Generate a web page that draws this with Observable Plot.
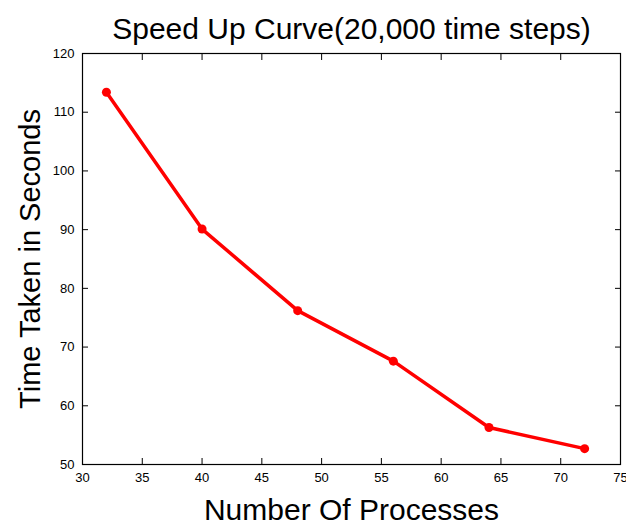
<!DOCTYPE html>
<html><head><meta charset="utf-8">
<script src="https://cdn.jsdelivr.net/npm/d3@7"></script>
<script src="https://cdn.jsdelivr.net/npm/@observablehq/plot@0.6"></script>
<style>body{margin:0;background:#fff}</style>
</head><body><div id="chart"></div>
<script>
const processes = [32, 40, 48, 56, 64, 72];
const seconds = [113.4, 90.1, 76.2, 67.6, 56.3, 52.7];
const xTicks = [30, 35, 40, 45, 50, 55, 60, 65, 70, 75];
const yTicks = [50, 60, 70, 80, 90, 100, 110, 120];
const title = "Speed Up Curve(20,000 time steps)";
const xLabel = "Number Of Processes";
const yLabel = "Time Taken in Seconds";

const data = processes.map((p, i) => ({p, s: seconds[i]}));
const font = "Liberation Sans, Arial, sans-serif";

const chart = Plot.plot({
  width: 626, height: 523,
  marginLeft: 82, marginRight: 6, marginTop: 53, marginBottom: 59,
  style: {fontFamily: font, background: "#fff", color: "#000"},
  x: {domain: [30, 75], ticks: xTicks},
  y: {domain: [50, 120], ticks: yTicks},
  marks: [
    Plot.frame({stroke: "#000", strokeWidth: 1.2}),
    Plot.axisX({ticks: xTicks, tickSize: -6, tickPadding: 14, fontSize: 13, label: null, anchor: "bottom", stroke: "#000"}),
    Plot.axisX({ticks: xTicks, tickSize: -6, tickFormat: () => "", label: null, anchor: "top", stroke: "#000"}),
    Plot.axisY({ticks: yTicks, tickSize: -6, tickPadding: 14, fontSize: 13, label: null, anchor: "left", stroke: "#000"}),
    Plot.axisY({ticks: yTicks, tickSize: -6, tickFormat: () => "", label: null, anchor: "right", stroke: "#000"}),
    Plot.line(data, {x: "p", y: "s", stroke: "#ff0000", strokeWidth: 3.5}),
    Plot.dot(data, {x: "p", y: "s", fill: "#ff0000", r: 4.5}),
    Plot.text([title], {frameAnchor: "top", textAnchor: "middle", lineAnchor: "bottom", dy: -15, fontSize: 30, fill: "#000", fontFamily: font}),
    Plot.text([xLabel], {frameAnchor: "bottom", textAnchor: "middle", lineAnchor: "top", dy: 34, fontSize: 30, fill: "#000", fontFamily: font}),
    Plot.text([yLabel], {frameAnchor: "left", textAnchor: "middle", lineAnchor: "middle", dx: -52, rotate: -90, fontSize: 29, fill: "#000", fontFamily: font})
  ]
});
document.getElementById("chart").append(chart);
</script></body></html>
